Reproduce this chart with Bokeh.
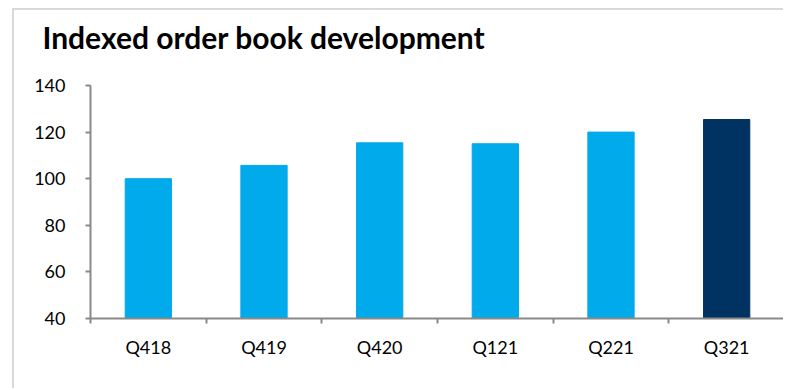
from bokeh.plotting import figure
from bokeh.models import Range1d, FixedTicker, ColumnDataSource, Title
from bokeh.embed import file_html
from bokeh.resources import INLINE

title_text = "Indexed order book development"
categories = ["Q418", "Q419", "Q420", "Q121", "Q221", "Q321"]
values = [100.0, 105.7, 115.4, 115.0, 120.0, 125.4]
y_ticks = [40, 60, 80, 100, 120, 140]

LIGHT = "#00AAEB"
DARK = "#003262"

n = len(categories)
xs = [i + 0.5 for i in range(n)]
cols = [LIGHT] * (n - 1) + [DARK]
src = ColumnDataSource(dict(x=xs, top=values, color=cols))

p = figure(width=771, height=380, output_backend="svg", toolbar_location=None,
           x_range=Range1d(0, n), y_range=Range1d(y_ticks[0], y_ticks[-1]),
           min_border_left=76, min_border_right=1, min_border_top=75, min_border_bottom=72)
p.margin = (8, 0, 0, 12)
p.styles = {"border-left": "2px solid #d9d9d9", "border-top": "2px solid #d9d9d9"}

p.vbar(x="x", top="top", bottom=y_ticks[0], width=0.4, fill_color="color",
       line_color="color", source=src)

# spacer between frame and title
p.add_layout(Title(text=" ", text_font_size="1px", standoff=26), "above")

p.title.text = title_text
p.title.text_font = "Lato"
p.title.text_font_style = "bold"
p.title.text_font_size = "30px"
p.title.text_color = "#000000"
p.title.align = "left"
p.title.offset = -48
p.title.standoff = 4

p.xgrid.visible = False
p.ygrid.visible = False
p.outline_line_color = None

xa = p.xaxis[0]
xa.ticker = FixedTicker(ticks=xs, minor_ticks=list(range(n + 1)))
xa.major_label_overrides = {x: c for x, c in zip(xs, categories)}
xa.major_tick_out = 0
xa.major_tick_in = 0
xa.minor_tick_out = 5
xa.minor_tick_in = 0
xa.minor_tick_line_color = "#898989"
xa.axis_line_color = "#898989"
xa.axis_line_width = 2
xa.minor_tick_line_width = 2
xa.major_label_text_font = "Lato"
xa.major_label_text_font_size = "18px"
xa.major_label_text_color = "#000000"
xa.major_label_standoff = 12

ya = p.yaxis[0]
ya.ticker = FixedTicker(ticks=y_ticks)
ya.major_tick_out = 5
ya.major_tick_in = 0
ya.minor_tick_out = 0
ya.minor_tick_in = 0
ya.major_tick_line_color = "#898989"
ya.major_tick_line_width = 2
ya.axis_line_color = "#898989"
ya.axis_line_width = 2
ya.major_label_text_font = "Lato"
ya.major_label_text_font_size = "18px"
ya.major_label_text_color = "#000000"
ya.major_label_standoff = 20

open("out.html", "w").write(file_html(p, INLINE))
